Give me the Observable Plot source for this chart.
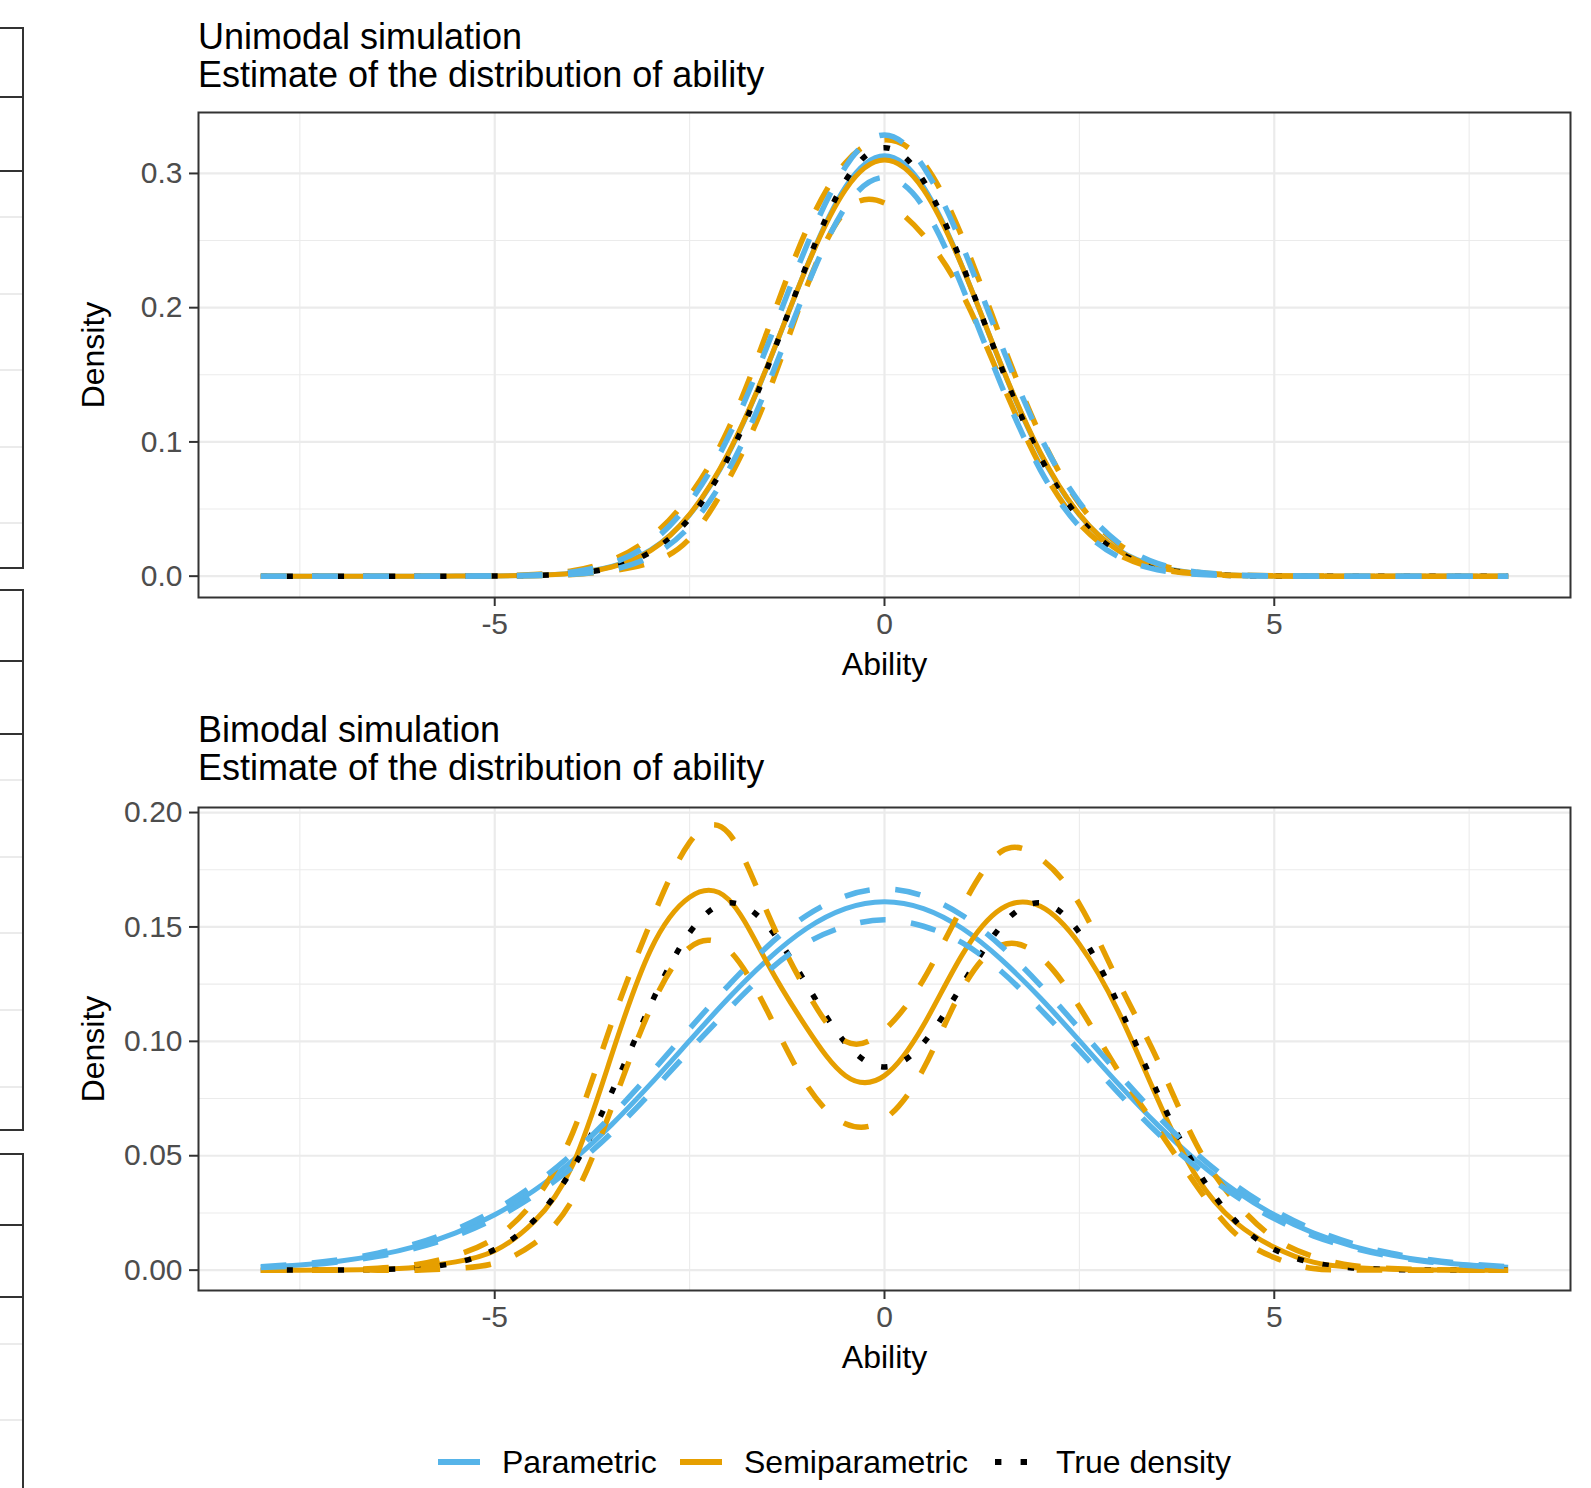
<!DOCTYPE html>
<html>
<head>
<meta charset="utf-8">
<script src="https://cdn.jsdelivr.net/npm/d3@7"></script>
<script src="https://cdn.jsdelivr.net/npm/@observablehq/plot@0.6"></script>
<style>
  html, body { margin: 0; padding: 0; background: #ffffff; }
  #page { position: relative; width: 1591px; height: 1488px; overflow: hidden; background: #ffffff;
          font-family: 'Liberation Sans', Arial, Helvetica, sans-serif; }
  .slot { position: absolute; left: 0; }
  .title { position: absolute; left: 198px; font-size: 36px; line-height: 38.5px; color: #000; white-space: nowrap; }
  .frag { position: absolute; left: -4px; width: 28px; border: 2px solid #333333; box-sizing: border-box; }
  .fragGrid { position: absolute; left: 0; width: 22px; height: 2px; background: #EBEBEB; }
</style>
</head>
<body>
<div id="page"></div>
<script>
// ---------------- data ----------------
const ability = [-8,-7.5,-7,-6.5,-6,-5.5,-5,-4.5,-4,-3.5,-3,-2.5,-2,-1.5,-1,-0.5,0,0.5,1,1.5,2,2.5,3,3.5,4,4.5,5,5.5,6,6.5,7,7.5,8];

// Unimodal simulation
const uniTrue   = [0,0,0,0,0,0.00002,0.00011,0.00049,0.00191,0.00633,0.0179,0.0432,0.0887,0.1554,0.2318,0.2946,0.3192,0.2946,0.2318,0.1554,0.0887,0.0432,0.0179,0.00633,0.00191,0.00049,0.00011,0.00002,0,0,0,0,0];
const uniPar    = [0,0,0,0,0.000005,0.00003,0.00014,0.00061,0.00226,0.00719,0.0196,0.0457,0.0913,0.1566,0.2302,0.2900,0.3132,0.2900,0.2302,0.1566,0.0913,0.0457,0.0196,0.00719,0.00226,0.00061,0.00014,0.00003,0.000005,0,0,0,0];
const uniParHi  = [0,0,0,0,0.00001,0.00005,0.0002,0.0009,0.0032,0.0095,0.025,0.055,0.104,0.172,0.246,0.305,0.3287,0.305,0.246,0.172,0.104,0.055,0.025,0.0095,0.0032,0.0009,0.0002,0.00005,0.00001,0,0,0,0];
const uniParLo  = [0,0,0,0,0,0,0.00007,0.0003,0.0014,0.0048,0.0145,0.037,0.079,0.142,0.215,0.275,0.297,0.275,0.215,0.142,0.079,0.037,0.0145,0.0048,0.0014,0.0003,0.00007,0,0,0,0,0,0];
const uniSemi   = [0,0,0,0,0,0.00003,0.00015,0.0006,0.0021,0.0068,0.019,0.046,0.092,0.157,0.230,0.288,0.310,0.288,0.230,0.157,0.092,0.046,0.019,0.0068,0.0021,0.0006,0.00015,0.00003,0,0,0,0,0];
const uniSemiHi = [0,0,0,0,0.00002,0.0001,0.0003,0.0012,0.004,0.012,0.029,0.060,0.110,0.183,0.258,0.308,0.325,0.308,0.252,0.176,0.105,0.054,0.024,0.009,0.003,0.0009,0.0002,0.00005,0,0,0,0,0];
const uniSemiLo = [0,0,0,0,0,0,0,0.0003,0.0012,0.004,0.010,0.028,0.072,0.135,0.215,0.272,0.278,0.254,0.210,0.145,0.082,0.039,0.016,0.0055,0.0017,0.0005,0.0001,0,0,0,0,0,0];

// Bimodal simulation
const biTrue   = [0,0.00001,0.00005,0.00025,0.00095,0.0032,0.009,0.0216,0.0444,0.0777,0.116,0.1475,0.1605,0.1505,0.1249,0.0993,0.0888,0.0993,0.1249,0.1505,0.1605,0.1475,0.116,0.0777,0.0444,0.0216,0.009,0.0032,0.00095,0.00025,0.00005,0.00001,0];
const biPar    = [0.00126,0.00227,0.00393,0.00656,0.01053,0.0163,0.0242,0.0347,0.0479,0.0636,0.0814,0.1003,0.1189,0.1357,0.1493,0.158,0.161,0.158,0.1493,0.1357,0.1189,0.1003,0.0814,0.0636,0.0479,0.0347,0.0242,0.0163,0.01053,0.00656,0.00393,0.00227,0.00126];
const biParHi  = [0.0015,0.0027,0.0045,0.0074,0.0117,0.0178,0.0262,0.0372,0.0510,0.0675,0.0860,0.1055,0.1245,0.1415,0.1550,0.1635,0.1666,0.1635,0.1550,0.1415,0.1245,0.1055,0.0860,0.0675,0.0510,0.0372,0.0262,0.0178,0.0117,0.0074,0.0045,0.0027,0.0015];
const biParLo  = [0.0011,0.0020,0.0036,0.0060,0.0097,0.0150,0.0225,0.0325,0.0450,0.0600,0.0775,0.0960,0.1140,0.1305,0.1430,0.1503,0.1531,0.1503,0.1430,0.1305,0.1140,0.0960,0.0775,0.0600,0.0450,0.0325,0.0225,0.0150,0.0097,0.0060,0.0036,0.0020,0.0011];
const biSemi   = [0,0,0.0001,0.0004,0.0013,0.0036,0.0085,0.021,0.046,0.094,0.140,0.163,0.162,0.134,0.106,0.085,0.085,0.107,0.138,0.158,0.159,0.1425,0.113,0.075,0.041,0.021,0.010,0.0035,0.0012,0.0004,0.0001,0,0];
const biSemiHi = [0,0,0.0002,0.0008,0.0025,0.0065,0.014,0.030,0.060,0.108,0.152,0.187,0.191,0.156,0.122,0.100,0.105,0.127,0.159,0.183,0.180,0.160,0.126,0.092,0.055,0.030,0.014,0.006,0.002,0.0007,0.0002,0,0];
const biSemiLo = [0,0,0,0,0,0.0008,0.003,0.0115,0.031,0.071,0.1145,0.141,0.140,0.113,0.081,0.064,0.066,0.088,0.123,0.142,0.137,0.115,0.087,0.062,0.037,0.016,0.0055,0.0007,0.0001,0,0,0,0];

const xMajor = [-5, 0, 5];
const xMinor = [-7.5, -2.5, 2.5, 7.5];
const uniYMajor = [0, 0.1, 0.2, 0.3];
const uniYMinor = [0.05, 0.15, 0.25];
const biYMajor = [0, 0.05, 0.10, 0.15, 0.20];
const biYMinor = [0.025, 0.075, 0.125, 0.175];

const methods = ["Parametric", "Semiparametric", "True density"];
const colors = ["#56B4E9", "#E69F00", "#000000"];

// ---------------- helpers ----------------
const FONT = "'Liberation Sans', Arial, Helvetica, sans-serif";
const toRows = (arr, band) => arr.map((v, i) => ({x: ability[i], y: v, band}));

function panel({est, hi, lo, semi, semiHi, semiLo, truth, yDomain, yMajor, yMinor, yFmt, height, marginTop, marginBottom}) {
  const parSolid = toRows(est, "p");
  const parDash = [...toRows(hi, "hi"), ...toRows(lo, "lo")];
  const semiSolid = toRows(semi, "s");
  const semiDash = [...toRows(semiHi, "hi"), ...toRows(semiLo, "lo")];
  const trueRows = toRows(truth, "t");
  const lineBase = {x: "x", y: "y", z: "band", curve: "natural", strokeLinecap: "butt", strokeLinejoin: "round"};
  return Plot.plot({
    width: 1591, height, marginLeft: 198, marginRight: 21, marginTop, marginBottom,
    style: {fontFamily: FONT, background: "transparent", overflow: "visible"},
    x: {domain: [-8.8, 8.8]},
    y: {domain: yDomain},
    marks: [
      Plot.gridX(xMinor, {stroke: "#EBEBEB", strokeOpacity: 1, strokeWidth: 1.1}),
      Plot.gridY(yMinor, {stroke: "#EBEBEB", strokeOpacity: 1, strokeWidth: 1.1}),
      Plot.gridX(xMajor, {stroke: "#EBEBEB", strokeOpacity: 1, strokeWidth: 2.2}),
      Plot.gridY(yMajor, {stroke: "#EBEBEB", strokeOpacity: 1, strokeWidth: 2.2}),
      Plot.line(parSolid, {...lineBase, stroke: colors[0], strokeWidth: 5}),
      Plot.line(semiSolid, {...lineBase, stroke: colors[1], strokeWidth: 5}),
      Plot.line(trueRows, {...lineBase, stroke: colors[2], strokeWidth: 5.5, strokeDasharray: "6.4 19.2"}),
      Plot.line(semiDash, {...lineBase, stroke: colors[1], strokeWidth: 5.5, strokeDasharray: "25.6 25.6"}),
      Plot.line(parDash, {...lineBase, stroke: colors[0], strokeWidth: 5.5, strokeDasharray: "25.6 25.6"}),
      Plot.frame({stroke: "#333333", strokeWidth: 2}),
      Plot.axisX(xMajor, {tickSize: 9, tickPadding: 6, fontSize: 30, tickFormat: d => String(d),
                          stroke: "#333333", strokeWidth: 2, fill: "#4D4D4D", label: null}),
      Plot.axisY(yMajor, {tickSize: 9, tickPadding: 7, fontSize: 30, tickFormat: yFmt,
                          stroke: "#333333", strokeWidth: 2, fill: "#4D4D4D", label: null}),
      Plot.text(["Ability"], {frameAnchor: "bottom", lineAnchor: "middle", textAnchor: "middle",
                              dy: 67.6, fontSize: 32, fill: "#000000"}),
      Plot.text(["Density"], {frameAnchor: "left", lineAnchor: "middle", textAnchor: "middle",
                              dx: -104.6, rotate: -90, fontSize: 32, fill: "#000000"})
    ]
  });
}

const page = document.getElementById("page");

// fragment of a neighbouring figure at the left edge
function fragBox(top, bottom, grids) {
  const b = document.createElement("div");
  b.className = "frag";
  b.style.top = (top - 1) + "px";
  b.style.height = (bottom - top + 2) + "px";
  page.appendChild(b);
  for (const g of grids) {
    const l = document.createElement("div");
    l.className = "fragGrid";
    l.style.top = (g - 1) + "px";
    page.appendChild(l);
  }
}
fragBox(27.6, 96.8, []);
fragBox(96.8, 171, []);
fragBox(171, 568, [217, 293.5, 370, 446.6, 523]);
fragBox(590.4, 661, []);
fragBox(661, 733.5, []);
fragBox(733.5, 1130, [780, 857, 933.4, 1010, 1087]);
fragBox(1153.6, 1224.9, []);
fragBox(1224.9, 1296.7, []);
fragBox(1296.7, 1600, [1343.6, 1420]);

// top panel
const slot1 = document.createElement("div");
slot1.className = "slot"; slot1.style.top = "0px";
slot1.appendChild(panel({
  est: uniPar, hi: uniParHi, lo: uniParLo, semi: uniSemi, semiHi: uniSemiHi, semiLo: uniSemiLo, truth: uniTrue,
  yDomain: [-0.0159, 0.3454], yMajor: uniYMajor, yMinor: uniYMinor, yFmt: d3.format(".1f"),
  height: 690, marginTop: 112, marginBottom: 93
}));
page.appendChild(slot1);

// bottom panel
const slot2 = document.createElement("div");
slot2.className = "slot"; slot2.style.top = "690px";
slot2.appendChild(panel({
  est: biPar, hi: biParHi, lo: biParLo, semi: biSemi, semiHi: biSemiHi, semiLo: biSemiLo, truth: biTrue,
  yDomain: [-0.0089, 0.2022], yMajor: biYMajor, yMinor: biYMinor, yFmt: d3.format(".2f"),
  height: 710, marginTop: 117, marginBottom: 110
}));
page.appendChild(slot2);

// titles
function title(top, lines) {
  const t = document.createElement("div");
  t.className = "title";
  t.style.top = top + "px";
  t.innerHTML = lines.join("<br>");
  page.appendChild(t);
}
title(17.7, ["Unimodal simulation", "Estimate of the distribution of ability"]);
title(710.8, ["Bimodal simulation", "Estimate of the distribution of ability"]);

// legend
const legendKeys = [
  {label: methods[0], color: colors[0], x0: 438, x1: 480, dash: null, width: 6, tx: 502},
  {label: methods[1], color: colors[1], x0: 680, x1: 722, dash: null, width: 6, tx: 744},
  {label: methods[2], color: colors[2], x0: 995, x1: 1030, dash: "6.4 19.2", width: 6, tx: 1056}
];
const leg = d3.create("svg").attr("width", 1591).attr("height", 60)
  .style("position", "absolute").style("left", "0px").style("top", "1432px");
const ly = 30;
for (const k of legendKeys) {
  leg.append("line").attr("x1", k.x0).attr("x2", k.x1).attr("y1", ly).attr("y2", ly)
    .attr("stroke", k.color).attr("stroke-width", k.width).attr("stroke-linecap", "butt")
    .attr("stroke-dasharray", k.dash);
  leg.append("text").attr("x", k.tx).attr("y", ly).attr("dy", "0.35em")
    .attr("font-family", FONT).attr("font-size", 32).attr("fill", "#000").text(k.label);
}
page.appendChild(leg.node());
</script>
</body>
</html>
